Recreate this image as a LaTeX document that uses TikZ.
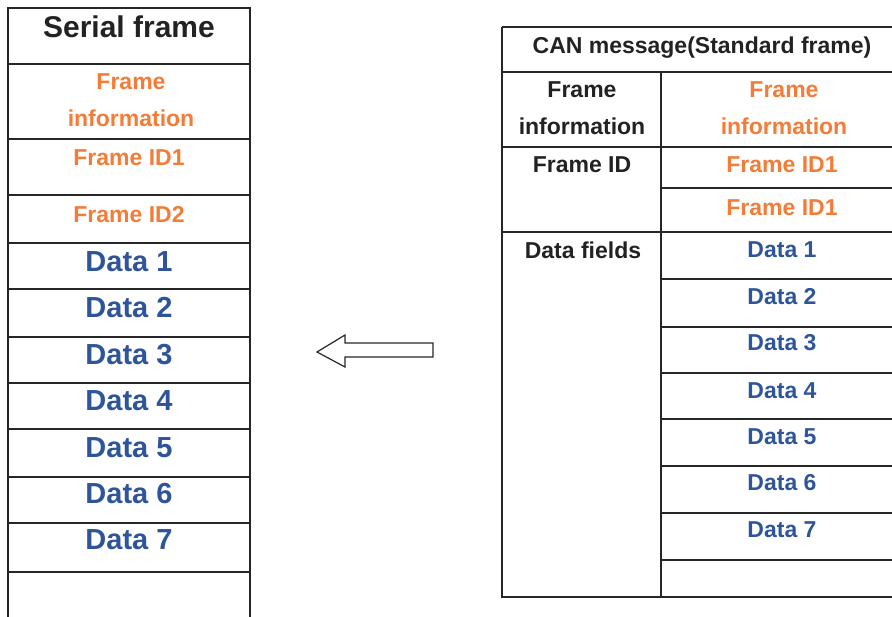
\documentclass[tikz,border=0pt]{standalone}
\usepackage{fontspec}
\setmainfont{Liberation Sans}

\definecolor{fieldorange}{HTML}{F27C38}
\definecolor{datablue}{HTML}{2E549A}
\definecolor{titleblack}{HTML}{222222}

\begin{document}
\begin{tikzpicture}[x=1pt, y=-1pt,
    rule/.style={line width=1.5pt, draw=black!85},
    serialtitle/.style={font=\bfseries\fontsize{30}{32}\selectfont, text=titleblack},
    cantitle/.style={font=\bfseries\fontsize{23}{25}\selectfont, text=titleblack},
    fieldtext/.style={font=\bfseries\fontsize{23}{36.5}\selectfont, text=fieldorange, align=center},
    bigdata/.style={font=\bfseries\fontsize{29}{31}\selectfont, text=datablue},
    smalldata/.style={font=\bfseries\fontsize{23}{25}\selectfont, text=datablue},
    labeltext/.style={font=\bfseries\fontsize{23}{37}\selectfont, text=titleblack, align=center}]

\useasboundingbox (0,0) rectangle (892,617);

% serial frame table
\draw[rule] (8,617) -- (8,8) -- (250,8) -- (250,617);
\foreach \y in {64,139,195,243,289,337,383,429,477,523,572}
    \draw[rule] (8,\y) -- (250,\y);

\node[serialtitle] (serialhdr) at (129,27) {Serial frame};
\node[fieldtext] (sinfo) at (131,100) {Frame\\ information};
\node[fieldtext] (sid1) at (129,158) {Frame ID1};
\node[fieldtext] (sid2) at (129,215) {Frame ID2};
\foreach \i/\y in {1/262,2/308,3/355,4/401,5/448,6/494,7/540}
    \node[bigdata] (sdata\i) at (129,\y) {Data \i};

% CAN message table
\draw[rule] (502,27) -- (892,27);
\draw[rule] (502,27) -- (502,597) -- (892,597);
\draw[rule] (661,72) -- (661,597);
\foreach \y in {72,147,232}
    \draw[rule] (502,\y) -- (892,\y);
\foreach \y in {188,279,327,373,419,466,513,560}
    \draw[rule] (661,\y) -- (892,\y);

\node[cantitle] (canhdr) at (702,48) {CAN message(Standard frame)};
\node[labeltext] (cinfolbl) at (582,108) {Frame\\information};
\node[fieldtext] (cinfo) at (784,108) {Frame\\ information};
\node[labeltext] (cidlbl) at (582,165) {Frame ID};
\node[fieldtext] (cid1) at (782,165) {Frame ID1};
\node[fieldtext] (cid2) at (782,208) {Frame ID1};
\node[labeltext] (cfieldslbl) at (583,250) {Data fields};
\foreach \i/\y in {1/250,2/297,3/343,4/391,5/437,6/483,7/530}
    \node[smalldata] (cdata\i) at (782,\y) {Data \i};

% conversion arrow
\draw[line width=1.2pt, draw=black!85, line join=miter]
    (317,352) -- (345,335) -- (345,343) -- (433,343) -- (433,357)
    -- (345,357) -- (345,367) -- cycle;

\end{tikzpicture}
\end{document}
